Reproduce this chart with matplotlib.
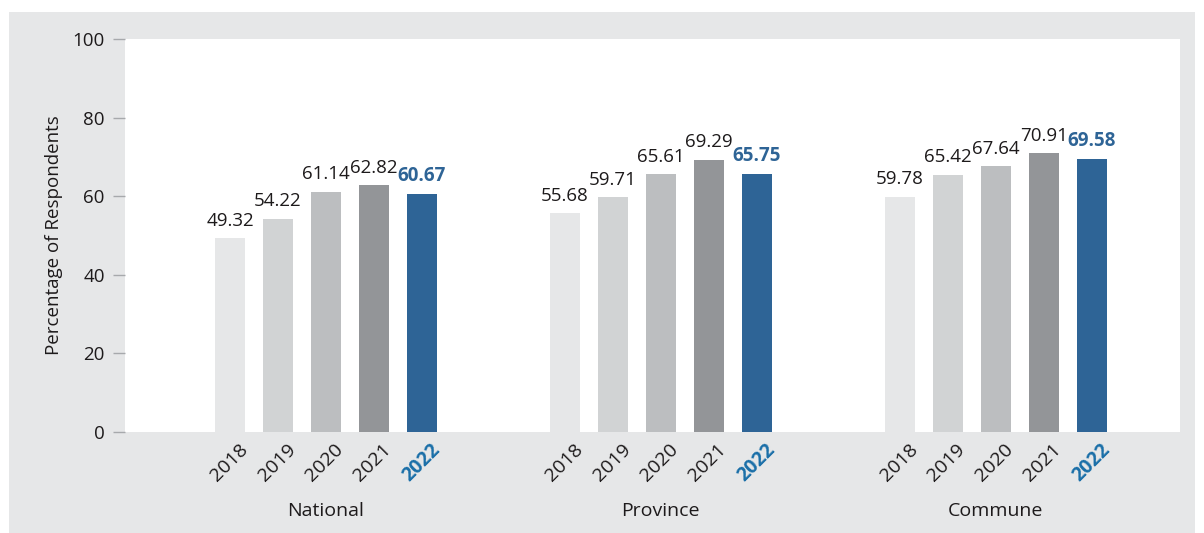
import matplotlib.pyplot as plt
from matplotlib.patches import Rectangle
from matplotlib.transforms import ScaledTranslation
import numpy as np

plt.rcParams['font.family'] = ['Open Sans', 'DejaVu Sans']

groups = ['National', 'Province', 'Commune']
years = ['2018', '2019', '2020', '2021', '2022']
values = {
    '2018': [49.32, 55.68, 59.78],
    '2019': [54.22, 59.71, 65.42],
    '2020': [61.14, 65.61, 67.64],
    '2021': [62.82, 69.29, 70.91],
    '2022': [60.67, 65.75, 69.58],
}
colors = ['#e6e7e8', '#d1d3d4', '#bcbec0', '#939598', '#2e6496']
yticks = [0, 20, 40, 60, 80, 100]
txt = '#1d1a1b'

fig = plt.figure(figsize=(12.04, 5.33), dpi=100, facecolor='white')
# grey panel behind the chart
fig.add_artist(Rectangle((9 / 1204, 0), 1186 / 1204, 1 - 12 / 533,
                         transform=fig.transFigure, facecolor='#e6e7e8',
                         edgecolor='none', zorder=-10))

ax = fig.add_axes([125 / 1204, 101 / 533, 1055 / 1204, 393 / 533])
ax.set_facecolor('white')

step = 0.143
width = 0.0896
centers = np.arange(len(groups))
tick_pos, tick_lab, tick_col = [], [], []
for i, yr in enumerate(years):
    x = centers + (i - 2) * step
    last = yr == '2022'
    ax.bar(x, values[yr], width=width, color=colors[i], zorder=2)
    for xi, v in zip(x, values[yr]):
        ax.text(xi, v + 3.2, f'{v:.2f}', ha='center', va='baseline',
                fontsize=13.5, fontweight='bold' if last else 'normal',
                color='#2e6496' if last else txt)
    tick_pos.extend(x)
    tick_lab.extend([yr] * len(groups))
    tick_col.extend(['#1a6fa8' if last else txt] * len(groups))

ax.set_xlim(-0.6, 2.55)
ax.set_ylim(0, 100)
ax.set_yticks(yticks)
ax.tick_params(axis='y', length=9, width=1, color='#a7a9ac', pad=5.5,
               labelsize=13.5, labelcolor=txt)
ax.set_xticks(tick_pos)
ax.set_xticklabels(tick_lab, rotation=45, ha='right', rotation_mode='anchor')
ax.tick_params(axis='x', length=0, pad=6, labelsize=14)
shift = ScaledTranslation(6 / 72, 0, fig.dpi_scale_trans)
for lbl, c in zip(ax.get_xticklabels(), tick_col):
    lbl.set_color(c)
    lbl.set_transform(lbl.get_transform() + shift)
    if c != txt:
        lbl.set_fontweight('bold')
for s in ax.spines.values():
    s.set_visible(False)

for c, g in zip(centers, groups):
    ax.text(c, -0.2, g, transform=ax.get_xaxis_transform(), ha='center',
            va='center', fontsize=14, color=txt)

ax.set_ylabel('Percentage of Respondents', fontsize=13.5, color=txt)
ax.yaxis.set_label_coords(-0.059, 0.5)

fig.savefig('out.png', dpi=100, facecolor='white')
